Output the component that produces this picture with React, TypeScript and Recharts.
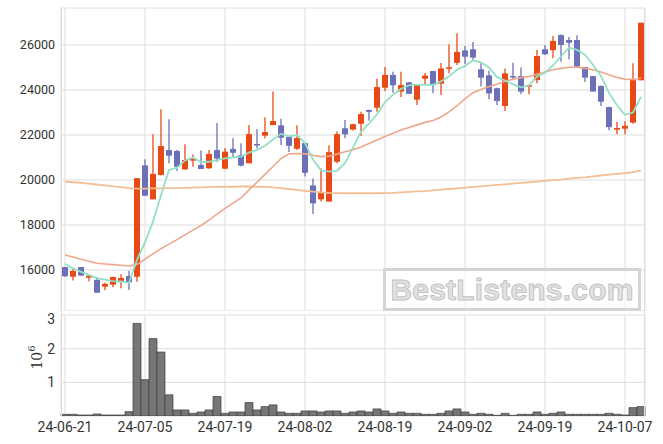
import React from "react";
import { ComposedChart, BarChart, Bar, Line, XAxis, YAxis, CartesianGrid } from "recharts";

const DATES = [
  "24-06-21",
  "24-06-24", "24-06-25", "24-06-26", "24-06-27", "24-06-28",
  "24-07-01", "24-07-02", "24-07-03", "24-07-04", "24-07-05",
  "24-07-08", "24-07-09", "24-07-10", "24-07-11", "24-07-12",
  "24-07-15", "24-07-16", "24-07-17", "24-07-18", "24-07-19",
  "24-07-22", "24-07-23", "24-07-24", "24-07-25", "24-07-26",
  "24-07-29", "24-07-30", "24-07-31", "24-08-01", "24-08-02",
  "24-08-05", "24-08-06", "24-08-07", "24-08-08", "24-08-09",
  "24-08-12", "24-08-13", "24-08-14", "24-08-16",
  "24-08-19", "24-08-20", "24-08-21", "24-08-22", "24-08-23",
  "24-08-26", "24-08-27", "24-08-28", "24-08-29", "24-08-30",
  "24-09-02", "24-09-03", "24-09-04", "24-09-05", "24-09-06",
  "24-09-09", "24-09-10", "24-09-11", "24-09-12", "24-09-13",
  "24-09-19", "24-09-20",
  "24-09-23", "24-09-24", "24-09-25", "24-09-26", "24-09-27",
  "24-09-30", "24-10-02", "24-10-04", "24-10-07", "24-10-08", "24-10-10",
];

const OPEN = [
  16130, 15700, 16130, 15660, 15560, 15260, 15350, 15470, 15730, 15700,
  20650, 19140, 20220, 21330, 21290, 20470, 20860, 20670, 20520, 21330,
  20500, 21380, 21100, 20740, 21600, 21970, 22440, 22430, 21910, 21390,
  21640, 19760, 19140, 19040, 20810, 22300, 22240, 22500, 23110, 23210,
  24100, 24670, 23930, 24340, 23570, 24500, 24840, 24280, 24950, 25210,
  25760, 25810, 24920, 24650, 24080, 23290, 24620, 24620, 24150, 24440,
  25810, 25770, 26440, 26220, 26220, 25020, 24620, 24180, 23240, 22240,
  22280, 22550, 24430,
];
const HIGH = [
  16150, 16040, 16130, 15760, 15690, 15450, 15700, 15810, 15970, 20080,
  20920, 22030, 23140, 22700, 21330, 21590, 21130, 21310, 21330, 22530,
  21420, 21850, 21630, 22440, 22250, 22790, 23930, 22720, 21930, 22430,
  21640, 20070, 20520, 21540, 22150, 22670, 22500, 23030, 23130, 24500,
  25020, 24810, 24810, 24360, 24270, 24750, 24860, 25200, 26030, 26520,
  25960, 26130, 25190, 24850, 24100, 24960, 25210, 25000, 24230, 25780,
  25990, 26400, 26470, 26350, 26430, 25020, 24620, 24200, 23260, 22580,
  22610, 25190, 26990,
];
const LOW = [
  15700, 15530, 15750, 15500, 14990, 15100, 15230, 15190, 15110, 15480,
  19300, 19140, 20200, 20740, 20400, 20450, 20590, 20490, 20500, 20810,
  20480, 21010, 20600, 20740, 21410, 21840, 22440, 21560, 21240, 21330,
  20150, 18490, 19040, 19040, 20740, 21850, 22200, 21950, 22630, 23030,
  23960, 23880, 23690, 23830, 23330, 24220, 23850, 23780, 24740, 25110,
  25150, 25290, 24150, 23590, 23330, 23070, 24480, 23810, 23810, 24300,
  25550, 25410, 25260, 25360, 24990, 24360, 23930, 23290, 22210, 22030,
  22030, 22500, 24430,
];
const CLOSE = [
  15720, 15960, 15750, 15750, 14990, 15380, 15690, 15645, 15450, 20080,
  19300, 20270, 21510, 21080, 20590, 20890, 20930, 20490, 21160, 20950,
  21260, 21210, 20640, 22040, 21560, 22130, 22620, 21880, 21520, 21870,
  20320, 18960, 19470, 21240, 22040, 22030, 22480, 22930, 23030, 24130,
  24670, 24210, 24220, 23830, 24250, 24640, 24210, 24960, 25010, 25690,
  25480, 25440, 24550, 23850, 23510, 24740, 24590, 23930, 24220, 25510,
  25590, 26180, 26000, 26100, 25040, 24550, 23930, 23480, 22350, 22310,
  22410, 24440, 26990,
];
// volume, millions
const VOLUME = [
  0.05, 0.05, 0.03, 0.03, 0.06, 0.03, 0.03, 0.03, 0.13, 2.75,
  1.08, 2.3, 1.9, 0.63, 0.18, 0.18, 0.08, 0.12, 0.18, 0.58,
  0.08, 0.12, 0.12, 0.4, 0.18, 0.28, 0.33, 0.12, 0.08, 0.08,
  0.15, 0.15, 0.12, 0.15, 0.15, 0.08, 0.12, 0.15, 0.12, 0.21,
  0.15, 0.08, 0.12, 0.08, 0.08, 0.05, 0.05, 0.08, 0.15, 0.21,
  0.12, 0.05, 0.08, 0.05, 0.02, 0.08, 0.02, 0.05, 0.05, 0.12,
  0.05, 0.08, 0.12, 0.05, 0.05, 0.05, 0.05, 0.05, 0.08, 0.05,
  0.03, 0.25, 0.28,
];
const MA5 = [
  16280, 16070, 15920, 15780, 15630, 15570, 15510, 15490, 15430, 16450,
  17230, 18150, 19320, 20450, 20550, 20870, 21000, 20800, 20810, 20880,
  20960, 21010, 21040, 21220, 21340, 21520, 21800, 22050, 21940, 22000,
  21640, 20910, 20430, 20370, 20410, 20750, 21450, 22140, 22500, 22920,
  23450, 23790, 24050, 24210, 24240, 24230, 24230, 24380, 24610, 24900,
  25070, 25320, 25230, 25000, 24570, 24420, 24250, 24120, 24200, 24600,
  24770, 25090, 25500, 25880, 25780, 25570, 25120, 24620, 23870, 23320,
  22900, 23000, 23700,
];
const MA20 = [
  16670, 16580, 16480, 16390, 16300, 16270, 16240, 16210, 16180, 16250,
  16480, 16720, 16950, 17150, 17350, 17560, 17770, 17980, 18220, 18480,
  18740, 18970, 19200, 19560, 19900, 20250, 20600, 20950, 21160, 21180,
  21160, 21100, 21040, 21060, 21150, 21260, 21350, 21470, 21620, 21780,
  21930, 22080, 22220, 22330, 22450, 22560, 22640, 22800, 23030, 23300,
  23600, 23880, 24020, 24150, 24260, 24390, 24480, 24550, 24600, 24700,
  24800, 24900, 24960, 25010, 25010, 24960, 24900, 24800, 24680, 24560,
  24480, 24470, 24520,
];
const MA60 = [
  19930, 19900, 19870, 19840, 19800, 19760, 19720, 19680, 19640, 19620,
  19620, 19630, 19630, 19640, 19640, 19650, 19660, 19670, 19680, 19690,
  19700, 19700, 19710, 19710, 19700, 19690, 19670, 19640, 19600, 19560,
  19520, 19480, 19450, 19430, 19420, 19410, 19410, 19410, 19410, 19410,
  19420, 19430, 19450, 19470, 19490, 19510, 19540, 19570, 19600, 19630,
  19660, 19690, 19720, 19750, 19780, 19810, 19840, 19870, 19900, 19930,
  19960, 19990, 20020, 20060, 20090, 20120, 20160, 20200, 20240, 20270,
  20300, 20350, 20420,
];

const PRICE_TICKS = [16000, 18000, 20000, 22000, 24000, 26000];
const VOLUME_TICKS = [1, 2, 3];
const DATE_TICKS = ["24-06-21", "24-07-05", "24-07-19", "24-08-02", "24-08-19", "24-09-02", "24-09-19", "24-10-07"];

const UP = "#e84a17";
const DOWN = "#6c70b6";
const GRID = "#dedede";
const FONT = "Roboto, sans-serif";

const data = DATES.map((date, i) => ({
  date,
  open: OPEN[i],
  high: HIGH[i],
  low: LOW[i],
  close: CLOSE[i],
  range: [LOW[i], HIGH[i]],
  volume: VOLUME[i],
  ma5: MA5[i],
  ma20: MA20[i],
  ma60: MA60[i],
}));

function Candle(props: any) {
  const { x, y, width, height, payload } = props;
  if (x == null || y == null) return null;
  const { open, close, high, low } = payload;
  const top = Math.min(y, y + height);
  const h = Math.abs(height);
  const ratio = h / (high - low || 1);
  const color = close >= open ? UP : DOWN;
  const bodyTop = top + (high - Math.max(open, close)) * ratio;
  const bodyH = Math.max(Math.abs(open - close) * ratio, 1.5);
  const cx = x + width / 2;
  return (
    <g>
      <line x1={cx} x2={cx} y1={top} y2={top + h} stroke={color} strokeWidth={1.3} />
      <rect x={x} y={bodyTop} width={width} height={bodyH} fill={color} />
    </g>
  );
}

const tickStyle = { fontSize: 12.5, fill: "#333", fontFamily: FONT };

export default function App() {
  return (
    <div style={{ position: "absolute", left: 0, top: 0, width: 663, height: 444, background: "#fff" }}>
      <div style={{ position: "absolute", left: 0, top: 0 }}>
        <ComposedChart width={663} height={311} data={data} margin={{ top: 8, right: 18, left: 0, bottom: 0 }}>
          <CartesianGrid stroke={GRID} strokeWidth={1} />
          <XAxis dataKey="date" hide ticks={DATE_TICKS} />
          <YAxis
            width={61}
            domain={[14178, 27644]}
            ticks={PRICE_TICKS}
            allowDataOverflow
            tickLine={false}
            axisLine={false}
            tickSize={0}
            tickMargin={6}
            tick={tickStyle}
          />
          <Bar dataKey="range" barSize={6} shape={<Candle />} isAnimationActive={false} />
          <Line type="linear" dataKey="ma60" stroke="#f2bf95" strokeWidth={1.8} dot={false} isAnimationActive={false} />
          <Line type="linear" dataKey="ma20" stroke="#eea78a" strokeWidth={1.6} dot={false} isAnimationActive={false} />
          <Line type="linear" dataKey="ma5" stroke="#94dfc6" strokeWidth={1.8} dot={false} isAnimationActive={false} />
        </ComposedChart>
      </div>
      <div style={{ position: "absolute", left: 0, top: 311 }}>
        <BarChart width={663} height={133} data={data} margin={{ top: 4, right: 18, left: 0, bottom: 0 }} barCategoryGap={0}>
          <CartesianGrid stroke={GRID} strokeWidth={1} />
          <XAxis
            dataKey="date"
            ticks={DATE_TICKS}
            height={28}
            tickLine={false}
            axisLine={false}
            tickSize={0}
            tickMargin={6}
            tick={{ ...tickStyle, fontSize: 14 }}
          />
          <YAxis
            width={61}
            domain={[0, 3]}
            ticks={VOLUME_TICKS}
            allowDataOverflow
            tickLine={false}
            axisLine={false}
            tickSize={0}
            tickMargin={6}
            tick={{ ...tickStyle, fontSize: 14 }}
            label={(p: any) => {
              const vb = p.viewBox || {};
              const cx = 37;
              const cy = (vb.y ?? 4) + (vb.height ?? 101) / 2 - 8;
              return (
                <text x={cx} y={cy} transform={`rotate(-90, ${cx}, ${cy})`} textAnchor="middle" dominantBaseline="central" fontSize={14} fill="#333" fontFamily="DejaVu Serif, serif">
                  10<tspan dy={-6} fontSize={10}>6</tspan>
                </text>
              );
            }}
          />
          <Bar dataKey="volume" fill="#767676" stroke="#3f3f3f" strokeWidth={0.7} isAnimationActive={false} />
        </BarChart>
      </div>
      <div style={{ position: "absolute", left: 61, top: 8, width: 1, height: 408, background: GRID }} />
      <div style={{ position: "absolute", left: 644, top: 8, width: 1, height: 408, background: GRID }} />
      <div
        style={{
          position: "absolute",
          left: 383,
          top: 268,
          width: 252,
          height: 37,
          border: "3px solid #d4d4d4",
          background: "rgba(255,255,255,0.55)",
          display: "flex",
          alignItems: "center",
          justifyContent: "center",
          fontFamily: "Liberation Sans, Arial, sans-serif",
          fontWeight: 700,
          fontSize: 30,
          color: "#e2e2e2",
          WebkitTextStroke: "1px #c4c4c4",
          letterSpacing: 0.2,
        }}
      >
        BestListens.com
      </div>
    </div>
  );
}
